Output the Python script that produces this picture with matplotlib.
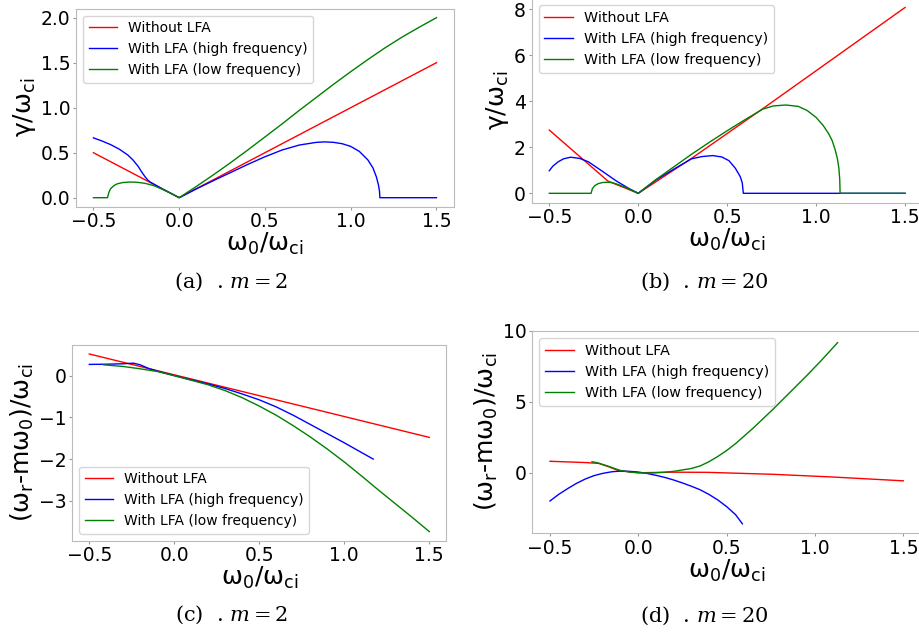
import matplotlib.pyplot as plt

plt.rcParams['mathtext.fontset'] = 'dejavuserif'

# (a) growth rate, m = 2
xa_red = [-0.5, 0.0, 1.5]
ya_red = [0.5, 0.0, 1.5]
xa_blue = [-0.5, -0.45, -0.4, -0.35, -0.3, -0.27, -0.24, -0.22, -0.2, -0.185, -0.17,
           -0.1, 0.0, 0.1, 0.2, 0.3, 0.4, 0.5, 0.6, 0.7, 0.8, 0.85, 0.9, 0.95, 1.0,
           1.05, 1.1, 1.13, 1.15, 1.162, 1.168, 1.17, 1.5]
ya_blue = [0.665, 0.63, 0.59, 0.54, 0.475, 0.42, 0.35, 0.29, 0.235, 0.2, 0.175,
           0.1, 0.0, 0.098, 0.19, 0.28, 0.37, 0.455, 0.53, 0.585, 0.615, 0.62, 0.615, 0.6, 0.57,
           0.515, 0.42, 0.33, 0.23, 0.14, 0.07, 0.0, 0.0]
xa_green = [-0.5, -0.418, -0.41, -0.4, -0.38, -0.36, -0.33, -0.29, -0.25, -0.2,
            -0.15, -0.1, -0.05, 0.0, 0.1, 0.2, 0.3, 0.4, 0.5, 0.6, 0.7, 0.8, 0.9, 1.0,
            1.1, 1.2, 1.3, 1.4, 1.5]
ya_green = [0.0, 0.0, 0.06, 0.1, 0.135, 0.155, 0.168, 0.174, 0.172, 0.16,
            0.135, 0.095, 0.05, 0.0, 0.125, 0.255, 0.39, 0.53, 0.675, 0.82, 0.97, 1.115, 1.26, 1.4,
            1.535, 1.665, 1.785, 1.895, 2.0]

# (b) growth rate, m = 20
xb_red = [-0.5, -0.17, 0.0, 0.3, 0.704, 1.5]
yb_red = [2.75, 0.53, 0.0, 1.52, 3.7, 8.08]
xb_blue = [-0.5, -0.48, -0.45, -0.42, -0.38, -0.33, -0.28, -0.2, -0.12, -0.05, 0.0,
           0.1, 0.2, 0.3, 0.36, 0.42, 0.47, 0.51, 0.546, 0.574, 0.585, 0.591, 1.5]
yb_blue = [0.98, 1.18, 1.37, 1.5, 1.57, 1.52, 1.37, 0.95, 0.52, 0.2, 0.0,
           0.58, 1.05, 1.5, 1.6, 1.64, 1.58, 1.42, 1.09, 0.72, 0.45, 0.0, 0.0]
xb_green = [-0.5, -0.265, -0.258, -0.245, -0.225, -0.2, -0.177, -0.15, -0.12, -0.072,
            0.0, 0.1, 0.2, 0.3, 0.4, 0.5, 0.6, 0.7, 0.76, 0.83, 0.9, 0.95, 1.0, 1.04,
            1.07, 1.09, 1.107, 1.12, 1.128, 1.133, 1.135, 1.5]
yb_green = [0.0, 0.0, 0.2, 0.33, 0.42, 0.47, 0.48, 0.47, 0.4, 0.26,
            0.0, 0.6, 1.15, 1.7, 2.22, 2.72, 3.2, 3.66, 3.8, 3.84, 3.78, 3.6, 3.3, 2.95,
            2.6, 2.3, 1.9, 1.5, 1.1, 0.6, 0.0, 0.0]

# (c) real frequency shift, m = 2
xc_red = [-0.5, 1.5]
yc_red = [0.52, -1.48]
xc_blue = [-0.5, -0.4, -0.3, -0.24, -0.2, -0.15, -0.1, 0.0, 0.2, 0.3, 0.4, 0.5, 0.6,
           0.7, 0.8, 0.9, 1.0, 1.1, 1.17]
yc_blue = [0.27, 0.275, 0.285, 0.3, 0.26, 0.17, 0.11, 0.0, -0.2, -0.31, -0.44, -0.58, -0.75,
           -0.95, -1.17, -1.39, -1.61, -1.84, -2.0]
xc_green = [-0.415, -0.3, -0.21, -0.1, 0.0, 0.2, 0.3, 0.4, 0.5, 0.6, 0.7, 0.8, 0.9,
            1.0, 1.1, 1.2, 1.3, 1.4, 1.5]
yc_green = [0.26, 0.22, 0.17, 0.1, 0.0, -0.22, -0.36, -0.53, -0.73, -0.95, -1.2, -1.47, -1.76,
            -2.07, -2.4, -2.74, -3.07, -3.4, -3.74]

# (d) real frequency shift, m = 20
xd_red = [-0.5, -0.3, -0.224, -0.167, -0.11, 0.0, 0.2, 0.387, 0.764, 1.1, 1.5]
yd_red = [0.81, 0.72, 0.66, 0.42, 0.14, 0.0, 0.04, 0.03, -0.11, -0.3, -0.57]
xd_blue = [-0.5, -0.45, -0.4, -0.35, -0.3, -0.25, -0.2, -0.15, -0.1, -0.05, 0.0, 0.05,
           0.1, 0.15, 0.2, 0.25, 0.3, 0.35, 0.4, 0.45, 0.5, 0.55, 0.589]
yd_blue = [-1.99, -1.52, -1.12, -0.75, -0.44, -0.2, -0.04, 0.07, 0.12, 0.1, 0.05, -0.05,
           -0.18, -0.33, -0.51, -0.72, -0.95, -1.2, -1.53, -1.92, -2.39, -2.95, -3.6]
xd_green = [-0.262, -0.23, -0.2, -0.167, -0.13, -0.1, -0.05, 0.0, 0.05, 0.1, 0.15, 0.2,
            0.25, 0.3, 0.35, 0.4, 0.45, 0.5, 0.55, 0.6, 0.65, 0.7, 0.764, 0.85, 0.953,
            1.04, 1.128]
yd_green = [0.78, 0.7, 0.58, 0.45, 0.28, 0.16, 0.05, 0.0, -0.02, 0.0, 0.04, 0.1,
            0.2, 0.3, 0.48, 0.78, 1.15, 1.57, 2.05, 2.6, 3.15, 3.74, 4.5, 5.57, 6.85,
            7.98, 9.18]

labels = ['Without LFA', 'With LFA (high frequency)', 'With LFA (low frequency)']
xlabel = 'ω$\\mathregular{_0}$/ω$\\mathregular{_{ci}}$'
ylabel_g = 'γ/ω$\\mathregular{_{ci}}$'
ylabel_w = '(ω$\\mathregular{_r}$-mω$\\mathregular{_0}$)/ω$\\mathregular{_{ci}}$'

W, H = 919, 635
fig = plt.figure(figsize=(W / 100, H / 100), dpi=100)


def box(left, top, right, bottom):
    return [left / W, 1 - bottom / H, (right - left) / W, (bottom - top) / H]


panels = [
    (box(76.3, 8.7, 453.6, 206.7), xa_red, ya_red, xa_blue, ya_blue, xa_green, ya_green,
     ylabel_g, 'upper left', 10, '(a)  . $m = 2$', (231, 282)),
    (box(531.5, -1.7, 922.8, 202.6), xb_red, yb_red, xb_blue, yb_blue, xb_green, yb_green,
     ylabel_g, 'upper left', 10.3, '(b)  . $m = 20$', (704, 282)),
    (box(72.3, 345.1, 446.3, 540.5), xc_red, yc_red, xc_blue, yc_blue, xc_green, yc_green,
     ylabel_w, 'lower left', 10, '(c)  . $m = 2$', (231, 615)),
    (box(532.3, 331, 921, 533), xd_red, yd_red, xd_blue, yd_blue, xd_green, yd_green,
     ylabel_w, 'upper left', 10.3, '(d)  . $m = 20$', (704, 616)),
]

axes = []
for pos, xr, yr, xb, yb, xg, yg, ylab, loc, lfs, cap, cpos in panels:
    ax = fig.add_axes(pos)
    ax.plot(xr, yr, color='red', lw=1, label=labels[0])
    ax.plot(xb, yb, color='blue', lw=1, label=labels[1])
    ax.plot(xg, yg, color='green', lw=1, label=labels[2])
    ax.set_xlim(-0.6, 1.6)
    ax.set_xticks([-0.5, 0.0, 0.5, 1.0, 1.5])
    ax.set_xlabel(xlabel, fontsize=18, labelpad=0)
    ax.set_ylabel(ylab, fontsize=18, labelpad=2)
    ax.tick_params(labelsize=13.5, length=2, color='#999999', pad=2)
    for s in ax.spines.values():
        s.set_color('#bbbbbb')
    ax.legend(loc=loc, fontsize=lfs)
    fig.text(cpos[0] / W, 1 - cpos[1] / H, cap, family='DejaVu Serif', fontsize=15,
             ha='center', va='center')
    axes.append(ax)

axes[0].set_ylim(-0.1, 2.1)
axes[1].set_ylim(-0.404, 8.48)
axes[2].set_ylim(-3.953, 0.733)
axes[2].set_yticks([-3, -2, -1, 0])
axes[3].set_ylim(-4.25, 10.0)
axes[3].set_yticks([0, 5, 10])

fig.savefig('out.png', dpi=100)
